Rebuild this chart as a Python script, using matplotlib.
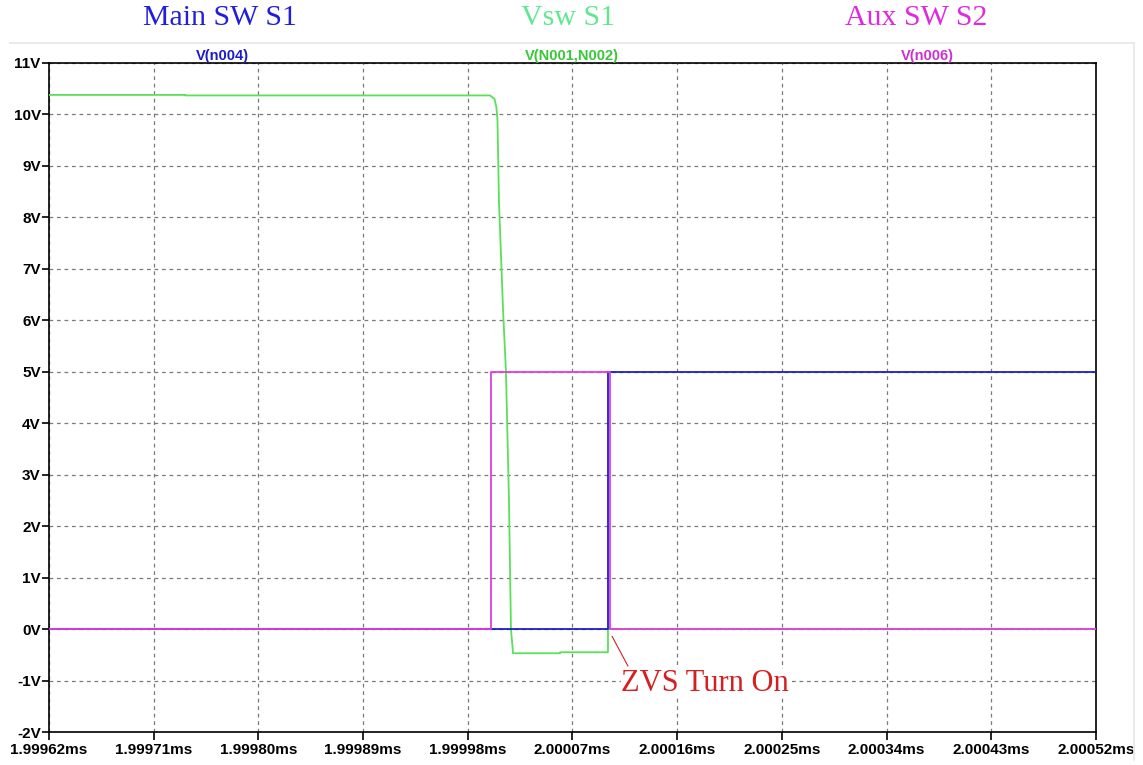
import matplotlib
matplotlib.use("Agg")
import matplotlib.pyplot as plt
from matplotlib.lines import Line2D

# Time base in microseconds (axis labels are shown in ms)
vsw_t = [1999.62, 1999.7369, 1999.7369, 1999.9991, 2000.0030, 2000.0045, 2000.0055,
         2000.0068, 2000.0103, 2000.0128, 2000.0154, 2000.0171, 2000.0189, 2000.0593,
         2000.0593, 2000.1005, 2000.1005, 2000.52]
vsw_v = [10.38, 10.38, 10.37, 10.37, 10.3, 10.15, 9.9, 8.3, 6.2, 5.0, 2.5, 0.0, -0.47,
         -0.47, -0.45, -0.45, 0.0, 0.0]

main_t = [1999.62, 2000.1005, 2000.1005, 2000.52]
main_v = [0.0, 0.0, 5.0, 5.0]

aux_t = [1999.62, 2000.0000, 2000.0000, 2000.1022, 2000.1022, 2000.52]
aux_v = [0.0, 0.0, 5.0, 5.0, 0.0, 0.0]

x_ticks = [1999.62, 1999.71, 1999.80, 1999.89, 1999.98, 2000.07, 2000.16,
           2000.25, 2000.34, 2000.43, 2000.52]
x_labels = ["1.99962ms", "1.99971ms", "1.99980ms", "1.99989ms", "1.99998ms",
            "2.00007ms", "2.00016ms", "2.00025ms", "2.00034ms", "2.00043ms",
            "2.00052ms"]
y_ticks = list(range(-2, 12))
y_labels = [f"{v}V" for v in y_ticks]

BLUE = "#1c1cc8"
GREEN = "#5ae05a"
MAGENTA = "#e03ce0"
RED = "#d42020"

fig = plt.figure(figsize=(11.43, 7.65), dpi=100)
W, H = 1143, 765
ax = fig.add_axes([49 / W, 1 - 732 / H, (1096 - 49) / W, (732 - 63) / H])

ax.plot(vsw_t, vsw_v, color=GREEN, lw=1.3, zorder=3)
ax.plot(main_t, main_v, color=BLUE, lw=1.3, zorder=4)
ax.plot(aux_t, aux_v, color=MAGENTA, lw=1.3, zorder=5)

ax.set_xlim(x_ticks[0], x_ticks[-1])
ax.set_ylim(-2, 11)
ax.set_xticks(x_ticks)
ax.set_xticklabels(x_labels)
ax.set_yticks(y_ticks)
ax.set_yticklabels(y_labels)
ax.grid(True, color="#7a7a7a", linestyle=(0, (3, 3)), linewidth=0.9)
ax.set_axisbelow(True)
for sp in ax.spines.values():
    sp.set_color("black")
    sp.set_linewidth(1.2)
ax.tick_params(axis="x", direction="out", length=6, width=1.2, pad=2)
ax.tick_params(axis="y", direction="out", length=5, width=1.2, pad=1)
for lab in ax.get_xticklabels() + ax.get_yticklabels():
    lab.set_fontfamily("Liberation Sans")
    lab.set_fontweight("bold")
    lab.set_fontsize(11)

# Annotation for the soft-switching edge
ax.annotate("", xy=(2000.1040, -0.14), xytext=(2000.1177, -0.72),
            arrowprops=dict(arrowstyle="-", color=RED, lw=0.8,
                            shrinkA=0, shrinkB=0), zorder=6)
ax.text(2000.1117, -1.05, "ZVS Turn On", color=RED, fontsize=22,
        family="Liberation Serif", ha="left", va="center", zorder=6,
        bbox=dict(facecolor="white", edgecolor="none", pad=0))

# Trace names above the plot
fig.text(222 / W, 1 - 56 / H, "V(n004)", color=BLUE, fontsize=10.5,
         fontweight="bold", family="Liberation Sans", ha="center", va="center")
fig.text(572 / W, 1 - 56 / H, "V(N001,N002)", color="#38c838", fontsize=10.5,
         fontweight="bold", family="Liberation Sans", ha="center", va="center")
fig.text(927 / W, 1 - 56 / H, "V(n006)", color="#d030d0", fontsize=10.5,
         fontweight="bold", family="Liberation Sans", ha="center", va="center")

# Headings
fig.text(220 / W, 1 - 18 / H, "Main SW S1", color="#2020d8", fontsize=21.5,
         family="Liberation Serif", ha="center", va="center")
fig.text(568 / W, 1 - 18 / H, "Vsw S1", color="#60e890", fontsize=21.5,
         family="Liberation Serif", ha="center", va="center")
fig.text(916 / W, 1 - 18 / H, "Aux SW S2", color="#e028e0", fontsize=21.5,
         family="Liberation Serif", ha="center", va="center")

# Light frame of the plot window
fig.add_artist(Line2D([10 / W, 1134 / W], [1 - 43 / H, 1 - 43 / H],
                      color="#e6e6e6", lw=1.2))
fig.add_artist(Line2D([1134 / W, 1134 / W], [1 - 43 / H, 1 - 760 / H],
                      color="#e6e6e6", lw=1.2))

fig.savefig("out.png", dpi=100, facecolor="white")
